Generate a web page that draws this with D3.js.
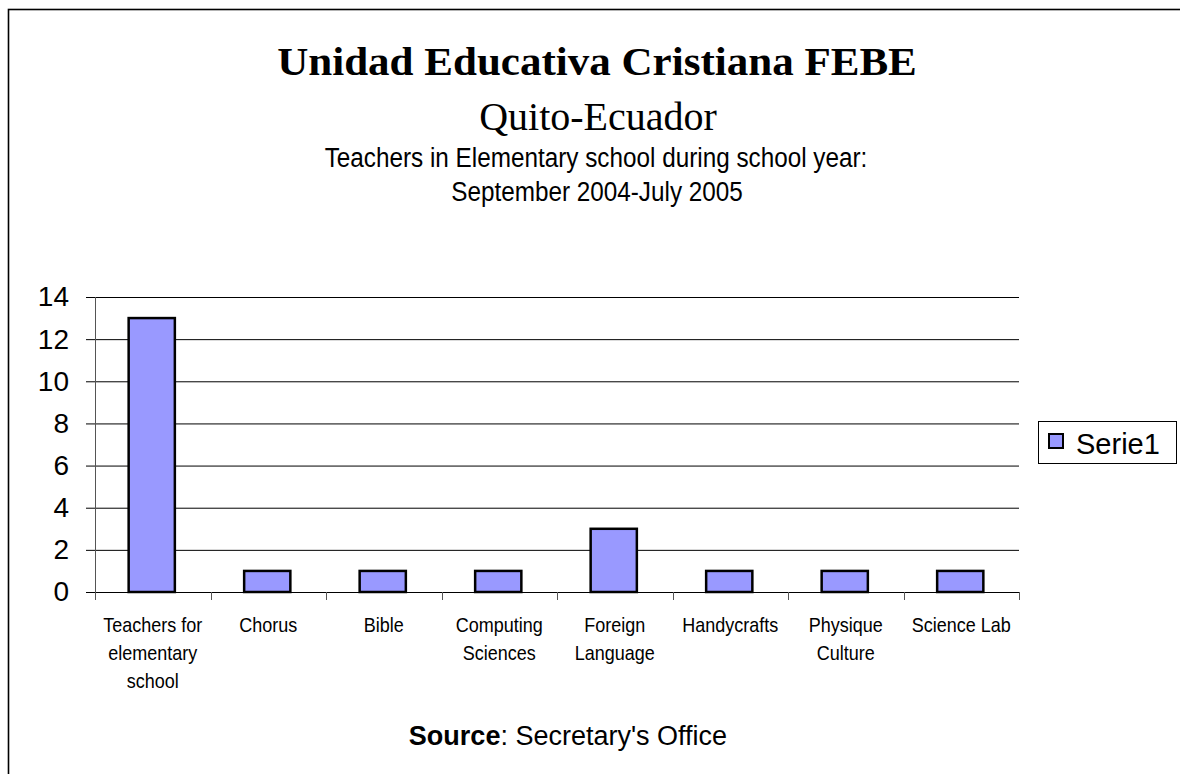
<!DOCTYPE html>
<html>
<head>
<meta charset="utf-8">
<script src="https://cdn.jsdelivr.net/npm/d3@7"></script>
<style>
  body { margin: 0; background: #fff; }
  svg { display: block; }
</style>
</head>
<body>
<svg id="chart" width="1180" height="774"></svg>
<script>
// chart data
const categories = [
  ["Teachers for", "elementary", "school"],
  ["Chorus"],
  ["Bible"],
  ["Computing", "Sciences"],
  ["Foreign", "Language"],
  ["Handycrafts"],
  ["Physique", "Culture"],
  ["Science Lab"]
];
const serie1 = [13, 1, 1, 1, 3, 1, 1, 1];
const yTicks = [0, 2, 4, 6, 8, 10, 12, 14];
const seriesName = "Serie1";

const sans = "Liberation Sans, Arial, sans-serif";
const serif = "Liberation Serif, serif";

const svg = d3.select("#chart");

// outer frame (runs off right and bottom edges)
svg.append("rect")
  .attr("x", 8.5).attr("y", 9.5)
  .attr("width", 1300).attr("height", 900)
  .style("fill", "none")
  .style("stroke", "#000")
  .style("stroke-width", 1.6);

// centred text with a horizontal squeeze/stretch
function label(cx, cy, sx, txt, family, size, weight) {
  return svg.append("text")
    .attr("x", 0).attr("y", 0)
    .attr("transform", "translate(" + cx + "," + cy + ") scale(" + sx + ",1)")
    .style("text-anchor", "middle")
    .style("font-family", family)
    .style("font-size", size + "px")
    .style("font-weight", weight || "normal")
    .text(txt);
}

// titles
label(597, 75, 1.05, "Unidad Educativa Cristiana FEBE", serif, 41, "bold");
label(598, 130, 1.0, "Quito-Ecuador", serif, 40);
label(596, 167, 0.9, "Teachers in Elementary school during school year:", sans, 27);
label(597, 201, 0.9, "September 2004-July 2005", sans, 27);

// plot area
const plotLeft = 95, plotRight = 1019, plotTop = 297, plotBottom = 592;
const x = d3.scaleBand()
  .domain(d3.range(categories.length))
  .range([plotLeft, plotRight]);
const y = d3.scaleLinear()
  .domain([0, 14])
  .range([plotBottom, plotTop]);

// gridlines
svg.append("g")
  .selectAll("line")
  .data(yTicks)
  .enter()
  .append("line")
  .attr("x1", plotLeft - 9).attr("x2", plotRight)
  .attr("y1", d => y(d) + 0.5).attr("y2", d => y(d) + 0.5)
  .style("stroke", "#000")
  .style("stroke-width", 1);

// y axis
const yAxis = svg.append("g")
  .attr("transform", "translate(" + plotLeft + ",0)")
  .call(d3.axisLeft(y).tickValues(yTicks).tickSize(0).tickPadding(26));
yAxis.select(".domain").remove();
yAxis.append("line")
  .attr("x1", 0.5).attr("x2", 0.5)
  .attr("y1", plotTop).attr("y2", plotBottom + 8)
  .style("stroke", "#555");
yAxis.selectAll("text")
  .style("font-family", sans)
  .style("font-size", "28px")
  .style("fill", "#000");

// x axis ticks at category boundaries
const bounds = d3.range(categories.length).map(i => x(i)).concat([plotRight]);
svg.append("g")
  .selectAll("line")
  .data(bounds)
  .enter()
  .append("line")
  .attr("x1", d => Math.round(d) + 0.5).attr("x2", d => Math.round(d) + 0.5)
  .attr("y1", plotBottom).attr("y2", plotBottom + 8)
  .style("stroke", "#555");

// bars
const barW = x.bandwidth() * 0.4;
svg.append("g")
  .selectAll("rect")
  .data(serie1)
  .enter()
  .append("rect")
  .attr("x", (d, i) => x(i) + (x.bandwidth() - barW) / 2 - 1)
  .attr("y", d => y(d))
  .attr("width", barW)
  .attr("height", d => y(0) - y(d))
  .style("fill", "#9999ff")
  .style("stroke", "#000")
  .style("stroke-width", 2.5);

// x labels
const xLabels = svg.append("g")
  .selectAll("text")
  .data(categories)
  .enter()
  .append("text")
  .attr("x", 0).attr("y", 0)
  .attr("transform", (d, i) => "translate(" + (x(i) + x.bandwidth() / 2) + ",632) scale(0.9,1)")
  .style("text-anchor", "middle")
  .style("font-family", sans)
  .style("font-size", "20px");
xLabels.selectAll("tspan")
  .data(d => d)
  .enter()
  .append("tspan")
  .attr("x", 0)
  .attr("dy", (d, i) => i === 0 ? 0 : 28)
  .text(d => d);

// legend
const legend = svg.append("g").attr("class", "legend");
legend.append("rect")
  .attr("x", 1038.5).attr("y", 421.5)
  .attr("width", 138).attr("height", 42)
  .style("fill", "#fff")
  .style("stroke", "#000")
  .style("stroke-width", 1);
legend.append("rect")
  .attr("x", 1049).attr("y", 434)
  .attr("width", 14).attr("height", 14)
  .style("fill", "#9999ff")
  .style("stroke", "#000")
  .style("stroke-width", 2);
legend.append("text")
  .attr("x", 1076).attr("y", 454)
  .style("font-family", sans)
  .style("font-size", "29px")
  .text(seriesName);

// source note
const src = svg.append("text")
  .attr("x", 568).attr("y", 745)
  .style("text-anchor", "middle")
  .style("font-family", sans)
  .style("font-size", "27px");
src.append("tspan").style("font-weight", "bold").text("Source");
src.append("tspan").text(": Secretary's Office");
</script>
</body>
</html>
